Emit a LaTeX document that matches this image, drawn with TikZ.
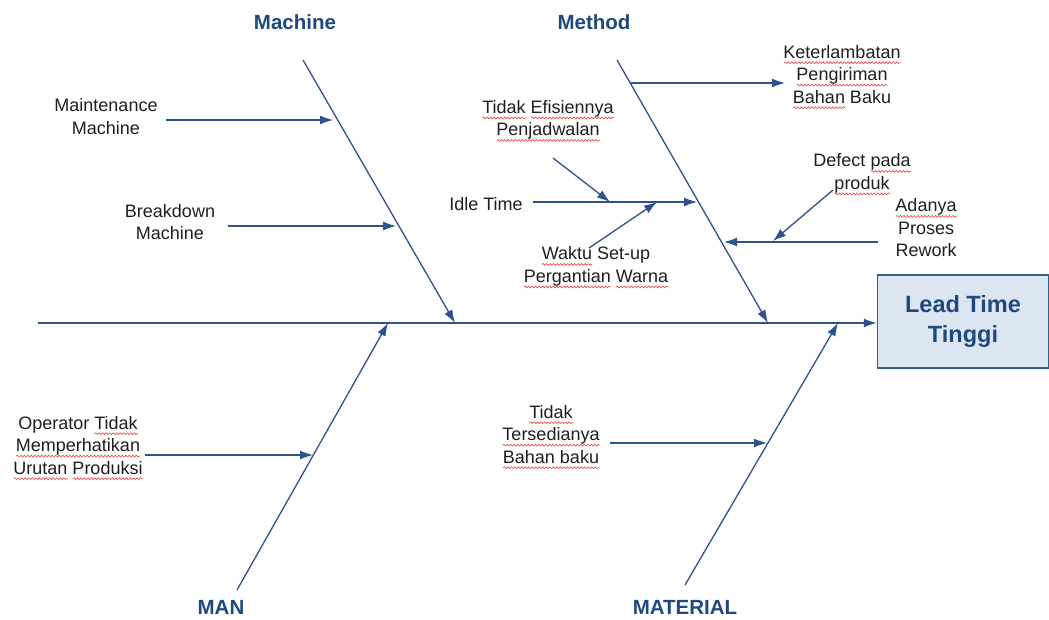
\documentclass[tikz,border=0pt]{standalone}
\usepackage{fontspec}
\setmainfont{Liberation Sans}
\usetikzlibrary{arrows.meta,decorations.pathmorphing}
\definecolor{bone}{RGB}{47,82,143}
\definecolor{ttlc}{RGB}{31,73,125}
\definecolor{boxfill}{RGB}{220,230,242}
\definecolor{boxline}{RGB}{56,93,138}
\definecolor{txt}{RGB}{30,30,30}
\definecolor{wavec}{RGB}{235,60,60}
\newlength\sqw
\newcommand\sq[1]{\settowidth\sqw{#1}\rlap{\tikz[baseline=0pt,x=1pt,y=1pt]\draw[wavec,line width=0.6pt,decorate,decoration={snake,amplitude=0.9pt,segment length=3.5pt}] (0,-4.5) -- (\sqw,-4.5);}#1}
\begin{document}
\begin{tikzpicture}[x=1pt,y=-1pt,
  lbl/.style={align=center,font=\fontsize{18}{22.5}\selectfont,text=txt,inner sep=0pt},
  ttl/.style={font=\fontsize{20.5}{24}\selectfont\bfseries,text=ttlc,inner sep=0pt},
  arr/.style={draw=bone,line width=1.3pt,-{Latex[length=13pt,width=9pt]}},
  bonel/.style={draw=bone,line width=1.3pt,-{Latex[length=13pt,width=9pt]}}]
\useasboundingbox (0,0) rectangle (1049,619);

% effect box
\node[draw=boxline,fill=boxfill,line width=1.5pt,minimum width=171pt,minimum height=93pt,
  align=center,font=\fontsize{23.5}{30}\selectfont\bfseries,text=ttlc] (eff) at (963,321.5) {Lead Time\\Tinggi};

% spine
\coordinate (sp0) at (38,323);
\draw[bonel] (sp0) -- (sp0 -| eff.west);

% titles
\node[ttl] (tmach) at (295,22) {Machine};
\node[ttl] (tmeth) at (594,22) {Method};
\node[ttl] (tman) at (221,607) {MAN};
\node[ttl] (tmat) at (685,607) {MATERIAL};

% bones
\coordinate (mach0) at (303,60);  \coordinate (mach1) at (455,323);
\coordinate (meth0) at (617,60);  \coordinate (meth1) at (768,323);
\coordinate (man0) at (237,590);  \coordinate (man1) at (388,323);
\coordinate (mat0) at (685,585);  \coordinate (mat1) at (838,323);
\draw[bonel] (mach0) -- (mach1);
\draw[bonel] (meth0) -- (meth1);
\draw[bonel] (man0) -- (man1);
\draw[bonel] (mat0) -- (mat1);

% Machine causes
\node[lbl] (mm) at (106,116.5) {Maintenance\\Machine};
\node[lbl] (bm) at (170,222) {Breakdown\\Machine};
\coordinate (mmS) at (166,120); \coordinate (mmE) at (333,120);
\coordinate (bmS) at (228,226); \coordinate (bmE) at (396,226);
\draw[arr] (mmS) -- (mmE);
\draw[arr] (bmS) -- (bmE);

% Method causes
\node[lbl] (kpb) at (842,77) {\sq{Keterlambatan}\\\sq{Pengiriman}\\\sq{Bahan} Baku};
\coordinate (kpbS) at (631,83); \coordinate (kpbE) at (785,83);
\draw[arr] (kpbS) -- (kpbE);

\node[lbl] (tep) at (548,121) {\sq{Tidak} \sq{Efisiennya}\\\sq{Penjadwalan}};
\node[lbl] (idle) at (486,204) {Idle Time};
\node[lbl] (wsp) at (596,267.5) {\sq{Waktu} Set-up\\\sq{Pergantian} \sq{Warna}};
\coordinate (idS) at (533,202); \coordinate (idE) at (697,202);
\coordinate (tepS) at (553,158); \coordinate (tepE) at (610,202);
\coordinate (wspS) at (589,248); \coordinate (wspE) at (657,202);
\draw[arr] (idS) -- (idE);
\draw[arr] (tepS) -- (tepE);
\draw[arr] (wspS) -- (wspE);

\node[lbl] (dpp) at (862,174.5) {Defect \sq{pada}\\\sq{produk}};
\node[lbl] (apr) at (926,228) {\sq{Adanya}\\Proses\\Rework};
\coordinate (rwS) at (878,242); \coordinate (rwE) at (724,242);
\coordinate (dpS) at (833,190); \coordinate (dpE) at (773,241);
\draw[arr] (rwS) -- (rwE);
\draw[arr] (dpS) -- (dpE);

% Man cause
\node[lbl] (otm) at (78,448) {Operator \sq{Tidak}\\\sq{Memperhatikan}\\\sq{Urutan} \sq{Produksi}};
\coordinate (otS) at (145,455); \coordinate (otE) at (313,455);
\draw[arr] (otS) -- (otE);

% Material cause
\node[lbl] (ttb) at (551,437) {\sq{Tidak}\\\sq{Tersedianya}\\\sq{Bahan baku}};
\coordinate (ttS) at (610,443); \coordinate (ttE) at (767,443);
\draw[arr] (ttS) -- (ttE);
\end{tikzpicture}
\end{document}
